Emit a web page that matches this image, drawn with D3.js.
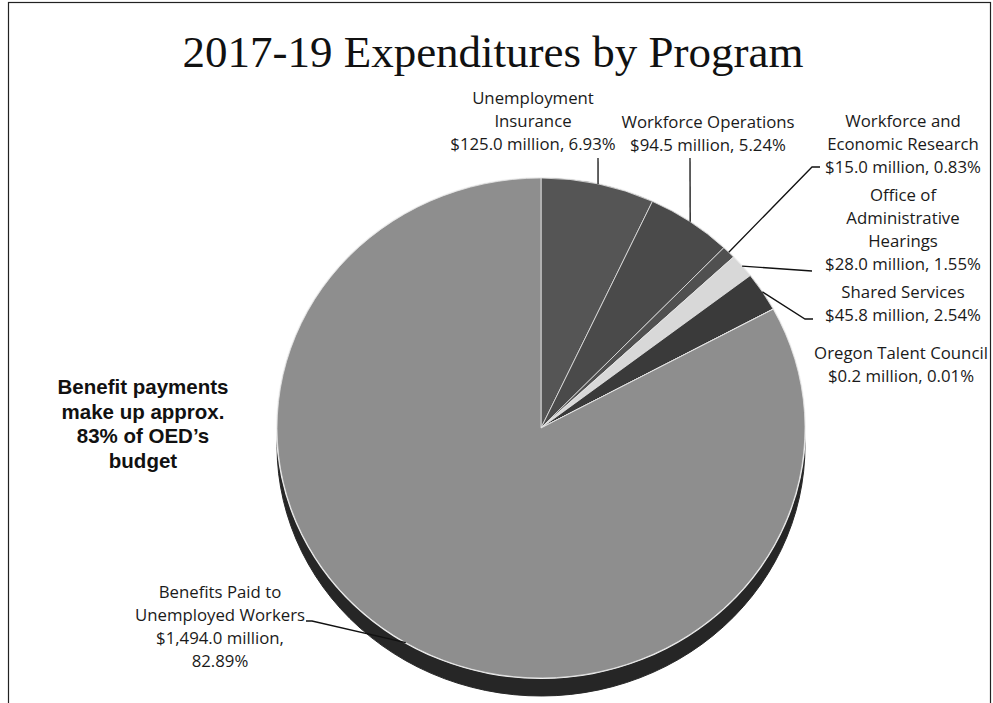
<!DOCTYPE html>
<html>
<head>
<meta charset="utf-8">
<script src="https://cdn.jsdelivr.net/npm/d3@7"></script>
<style>
  html, body { margin: 0; padding: 0; background: #fff; }
  svg { display: block; }
</style>
</head>
<body>
<svg id="chart" width="993" height="703"></svg>
<script>
// 2017-19 OED expenditures by program ($ million), in clockwise order from 12 o'clock
const programs = [
  "Unemployment Insurance",
  "Workforce Operations",
  "Workforce and Economic Research",
  "Office of Administrative Hearings",
  "Shared Services",
  "Oregon Talent Council",
  "Benefits Paid to Unemployed Workers"
];
const amounts = [125.0, 94.5, 15.0, 28.0, 45.8, 0.2, 1494.0];
const shares = [6.93, 5.24, 0.83, 1.55, 2.54, 0.01, 82.89];
const nameLines = [
  ["Unemployment", "Insurance"],
  ["Workforce Operations"],
  ["Workforce and", "Economic Research"],
  ["Office of", "Administrative", "Hearings"],
  ["Shared Services"],
  ["Oregon Talent Council"],
  ["Benefits Paid to", "Unemployed Workers"]
];
const titleText = "2017-19 Expenditures by Program";
const noteLines = ["Benefit payments", "make up approx.", "83% of OED\u2019s", "budget"];

// styling
const sliceFills = ["#555555", "#4a4a4a", "#505050", "#d8d8d8", "#3a3a3a", "#777777", "#8e8e8e"];
const sideFill = "#262626";

// label layout: text centre x, first line y, leader points (after the slice edge point)
const labelLayout = [
  { x: 533, y: 98, leader: [[598, 158]] },
  { x: 708, y: 122, leader: [[690, 158]] },
  { x: 903, y: 121, leader: [[812, 167], [820, 167]] },
  { x: 903, y: 195, leader: [[812, 271]] },
  { x: 903, y: 292, leader: [[805, 319], [813, 319]] },
  { x: 901, y: 353, leader: null },
  { x: 220, y: 592, leader: [[312, 621], [306, 621]] }
];

const svg = d3.select("#chart");
const cx = 541, cy = 428, rx = 264, ry = 250, depth = 18;

// chart border
svg.append("rect")
  .attr("x", 8.5).attr("y", 2.5).attr("width", 982).attr("height", 720)
  .attr("fill", "none").attr("stroke", "#222").attr("stroke-width", 1.2);

// title
svg.append("text")
  .attr("x", 493).attr("y", 67)
  .attr("text-anchor", "middle")
  .attr("font-family", "'Liberation Serif', 'DejaVu Serif', serif")
  .attr("font-size", 45)
  .attr("fill", "#111")
  .text(titleText);

const data = programs.map((p, i) => ({ name: p, amount: amounts[i], share: shares[i], i }));
const pie = d3.pie().sort(null).value(d => d.amount);
const arcs = pie(data);
const arc = d3.arc().innerRadius(0).outerRadius(rx);
const sy = ry / rx;

// side wall of the tilted pie (visible along the front edge)
svg.append("g")
  .attr("transform", `translate(${cx},${cy + depth}) scale(1,${sy})`)
  .selectAll("path")
  .data(arcs)
  .join("path")
  .attr("d", arc)
  .attr("fill", sideFill)
  .attr("stroke", sideFill)
  .attr("stroke-width", 1);

// top face
const face = svg.append("g")
  .attr("transform", `translate(${cx},${cy}) scale(1,${sy})`);
face.append("ellipse")
  .attr("cx", 0).attr("cy", 0).attr("rx", rx + 1).attr("ry", rx + 1)
  .attr("fill", "#f4f4f4");
face.selectAll("path.slice")
  .data(arcs)
  .join("path")
  .attr("class", "slice")
  .attr("d", arc)
  .attr("fill", d => sliceFills[d.data.i])
  .attr("stroke", "#e8e8e8")
  .attr("stroke-width", 0.8);

// point on the top-face rim at a given pie angle
function rim(angle) {
  return [cx + rx * Math.sin(angle), cy - ry * Math.cos(angle)];
}

const fmt = d3.format(",.1f");
const labelFont = "'Open Sans', Lato, sans-serif";
const lineH = 23;

arcs.forEach(a => {
  const d = a.data;
  const lay = labelLayout[d.i];
  const valueLine = `$${fmt(d.amount)} million, ${d.share.toFixed(2)}%`;
  let lines = nameLines[d.i].slice();
  if (d.i === 6) {
    lines.push(`$${fmt(d.amount)} million,`, `${d.share.toFixed(2)}%`);
  } else {
    lines.push(valueLine);
  }
  const t = svg.append("text")
    .attr("text-anchor", "middle")
    .attr("font-family", labelFont)
    .attr("font-size", 16.8)
    .attr("fill", "#1a1a1a");
  lines.forEach((ln, k) => {
    t.append("tspan")
      .attr("x", lay.x)
      .attr("y", lay.y + k * lineH)
      .attr("dy", "0.35em")
      .text(ln);
  });
  if (lay.leader) {
    const mid = (a.startAngle + a.endAngle) / 2;
    const pts = [rim(mid)].concat(lay.leader);
    svg.append("path")
      .attr("d", d3.line()(pts))
      .attr("fill", "none")
      .attr("stroke", "#111")
      .attr("stroke-width", 1.3);
  }
});

// annotation
const note = svg.append("text")
  .attr("text-anchor", "middle")
  .attr("font-family", "'Liberation Sans', Arial, sans-serif")
  .attr("font-weight", "bold")
  .attr("font-size", 20.5)
  .attr("fill", "#111");
noteLines.forEach((ln, k) => {
  note.append("tspan")
    .attr("x", 143).attr("y", 387 + k * 24.5)
    .attr("dy", "0.35em")
    .text(ln);
});
</script>
</body>
</html>
